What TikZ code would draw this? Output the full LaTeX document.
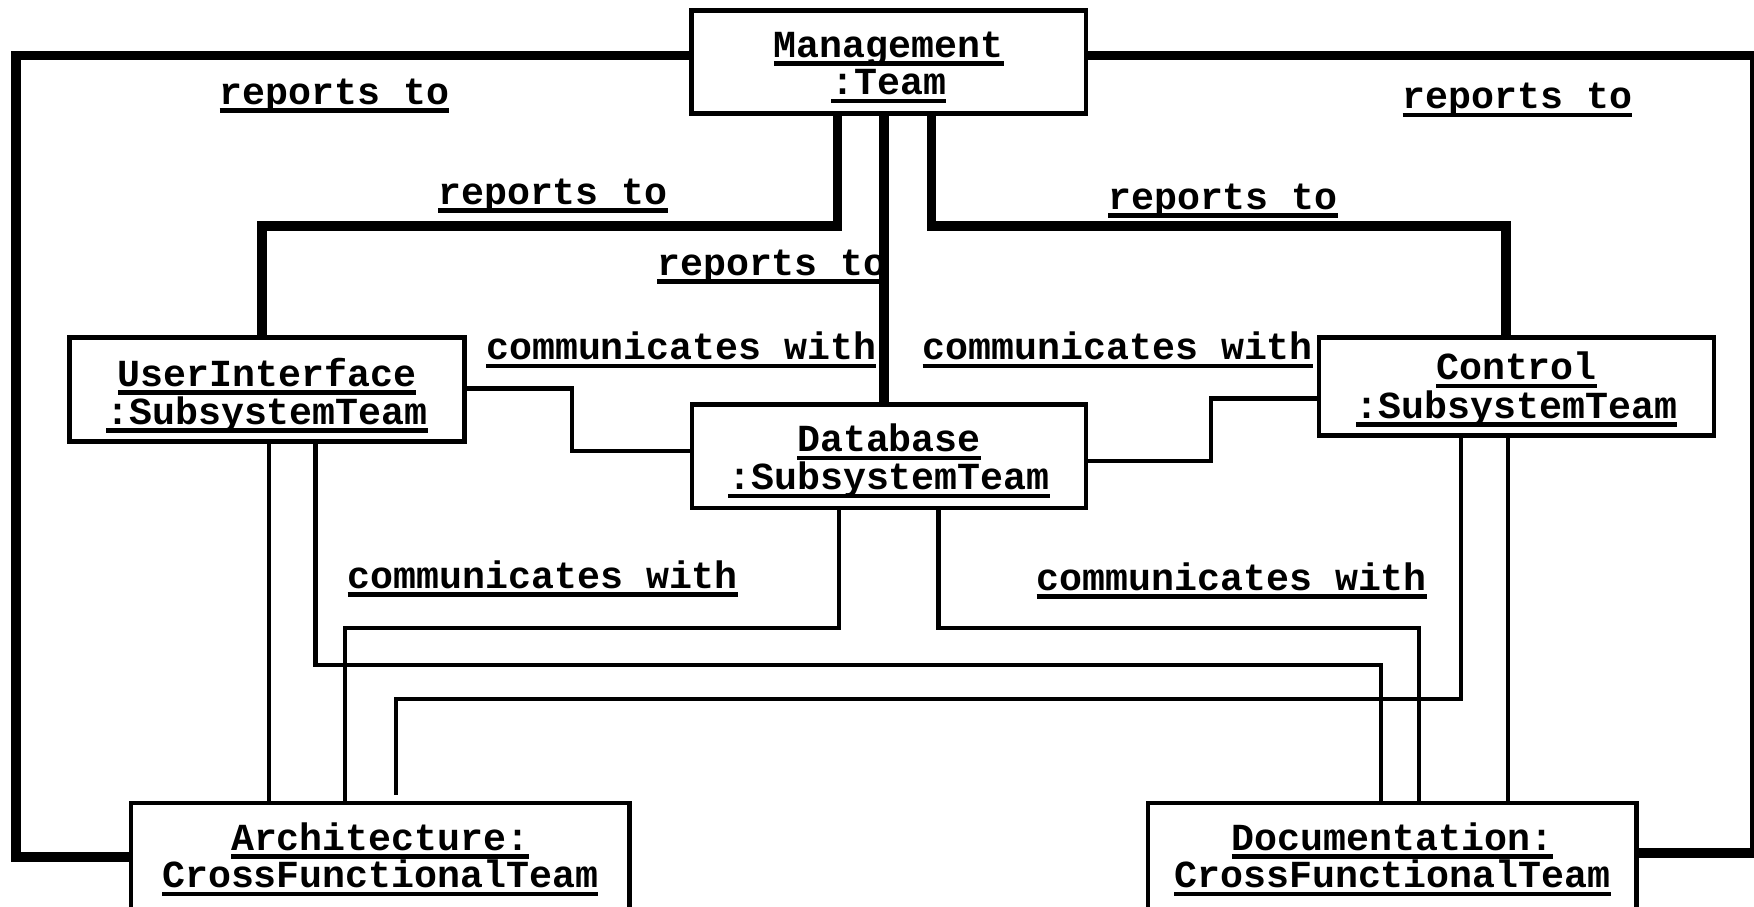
\documentclass[tikz,border=0pt]{standalone}
\usepackage{fontspec}
\newfontfamily\cour{Liberation Mono}

% underlined text: a rule just under the baseline, as wide as the text
\newsavebox\ulinbox
\newcommand\ulin[1]{\sbox\ulinbox{#1}\rlap{\rule[-0.233em]{\wd\ulinbox}{0.117em}}\usebox\ulinbox}

\tikzset{
  objbox/.style={draw, line width=4.3pt, fill=white, inner sep=0pt},
  txt/.style={anchor=base, inner sep=0pt, font={\cour\bfseries\fontsize{38.25}{38.4}\selectfont}},
  lbl/.style={txt, anchor=base west},
  assoc/.style={line width=9.5pt},
  wire/.style={line width=4.3pt},
}

\begin{document}
\begin{tikzpicture}[x=1pt, y=-1pt]
\useasboundingbox (0,0) rectangle (1754,906);

% association labels (drawn first so the lines pass over them)
\node[lbl] (rLeftOuter)  at (219.3,104)   {\ulin{reports to}};
\node[lbl] (rLeftInner)  at (438,204)     {\ulin{reports to}};
\node[lbl] (rCenter)     at (657,275)     {\ulin{reports to}};
\node[lbl] (rRightInner) at (1108,209)    {\ulin{reports to}};
\node[lbl] (rRightOuter) at (1402.5,108.5){\ulin{reports to}};
\node[lbl] (cUiDb)       at (486,359.5)   {\ulin{communicates with}};
\node[lbl] (cDbCtrl)     at (922.5,359.5) {\ulin{communicates with}};
\node[lbl] (cArch)       at (347.5,588)   {\ulin{communicates with}};
\node[lbl] (cDoc)        at (1036.5,590)  {\ulin{communicates with}};

% object boxes
\node[objbox, minimum width=394.5pt, minimum height=103pt]   (mgmt) at (888.75,62) {};
\node[objbox, minimum width=395pt,   minimum height=104pt]   (ui)   at (267,389.5) {};
\node[objbox, minimum width=394pt,   minimum height=103.5pt] (db)   at (889,456.25) {};
\node[objbox, minimum width=395pt,   minimum height=98pt]    (ctrl) at (1516.5,386.5) {};
\node[objbox, minimum width=498.5pt, minimum height=106.7pt] (arch) at (380.25,856.65) {};
\node[objbox, minimum width=488.3pt, minimum height=106.7pt] (doc)  at (1392.45,856.65) {};

% "reports to" associations
\draw[assoc] (mgmt.west |- 0,55.5) -| (15.8,857) -- (arch.west |- 0,857);
\draw[assoc] (mgmt.east |- 0,55.5) -| (1755,853) -- (doc.east |- 0,853);
\draw[assoc] (mgmt.south -| 837.5,0) |- (262,226) -- (ui.north -| 262,0);
\draw[assoc] (mgmt.south -| 884,0) -- (db.north -| 884,0);
\draw[assoc] (mgmt.south -| 931.5,0) |- (1506,226) -- (ctrl.north -| 1506,0);

% "communicates with" associations
\draw[wire] (ui.east |- 0,388.5) -| (572,451) -- (db.west |- 0,451);
\draw[wire] (db.east |- 0,461) -| (1210.8,398.4) -- (ctrl.west |- 0,398.4);
\draw[wire] (db.south -| 839,0) |- (345,628) -- (arch.north -| 345,0);
\draw[wire] (db.south -| 938.5,0) |- (1419,628) -- (doc.north -| 1419,0);
\draw[wire] (ui.south -| 315.5,0) |- (1381,665.3) -- (doc.north -| 1381,0);
\draw[wire] (ui.south -| 269,0) -- (arch.north -| 269,0);
\draw[wire, shorten >=6pt] (ctrl.south -| 1461.3,0) |- (396,698.7) -- (arch.north -| 396,0);
\draw[wire] (ctrl.south -| 1508,0) -- (doc.north -| 1508,0);

% object names
\node[txt] (mgmtA) at (888.75,57)    {\ulin{Management}};
\node[txt] (mgmtB) at (888.75,94.5)  {\ulin{:Team}};
\node[txt] (uiA)   at (267,386)      {\ulin{UserInterface}};
\node[txt] (uiB)   at (267,424)      {\ulin{:SubsystemTeam}};
\node[txt] (dbA)   at (889,451.5)    {\ulin{Database}};
\node[txt] (dbB)   at (889,489.5)    {\ulin{:SubsystemTeam}};
\node[txt] (ctrlA) at (1516.5,379.5) {\ulin{Control}};
\node[txt] (ctrlB) at (1516.5,418)   {\ulin{:SubsystemTeam}};
\node[txt] (archA) at (380.25,850)   {\ulin{Architecture:}};
\node[txt] (archB) at (380.25,887.5) {\ulin{CrossFunctionalTeam}};
\node[txt] (docA)  at (1392.45,850)  {\ulin{Documentation:}};
\node[txt] (docB)  at (1392.45,887.5){\ulin{CrossFunctionalTeam}};
\end{tikzpicture}
\end{document}
